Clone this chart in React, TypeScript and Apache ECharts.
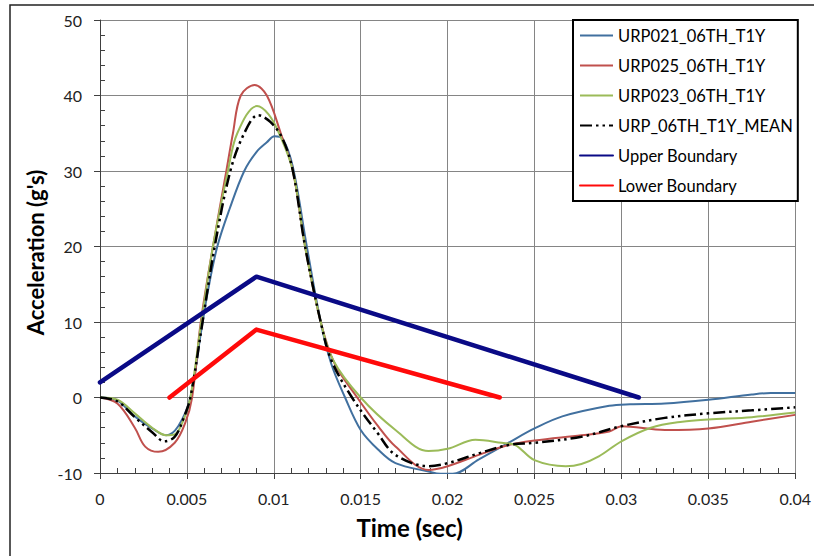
import React, { useEffect, useRef } from "react";
import * as echarts from "echarts";

// ---- Data (time in seconds, acceleration in g's) ----
const urp021Time = [0, 0.001, 0.002, 0.003, 0.0038, 0.0045, 0.0052, 0.0058, 0.0062, 0.00675, 0.00746, 0.0083, 0.009, 0.0096, 0.01004, 0.0105, 0.0111, 0.0119, 0.0127, 0.0133, 0.0141, 0.015, 0.016, 0.017, 0.0189, 0.0196, 0.0203, 0.0218, 0.0235, 0.025, 0.0266, 0.0293, 0.0305, 0.0325, 0.035, 0.0375, 0.0386, 0.04];
const urp021Values = [0, -0.4, -2.5, -4.1, -5.0, -3.8, 0, 8.5, 14, 20, 25, 30, 32.5, 33.8, 34.6, 34.3, 30.5, 20, 10, 4.5, 0, -4.3, -6.9, -8.7, -9.8, -10.1, -10.1, -8.2, -6.0, -4.1, -2.5, -1.1, -0.9, -0.8, -0.3, 0.4, 0.6, 0.6];

const urp025Time = [0, 0.001, 0.002, 0.0026, 0.00335, 0.0043, 0.0049, 0.0053, 0.0058, 0.0065, 0.00727, 0.00765, 0.0081, 0.0089, 0.0096, 0.0104, 0.0111, 0.0118, 0.0127, 0.0135, 0.0148, 0.016, 0.017, 0.0189, 0.02, 0.0218, 0.0235, 0.025, 0.0277, 0.0293, 0.03, 0.0325, 0.035, 0.0375, 0.04];
const urp025Values = [0, -0.8, -4.0, -6.5, -7.2, -6.0, -3.4, 0, 10, 20, 30, 35, 40, 41.4, 40, 35, 30, 20, 10, 4.5, 0, -3.8, -6.5, -9.6, -9.1, -7.6, -6.3, -5.7, -5.0, -4.5, -3.8, -4.3, -4.1, -3.2, -2.3];

const urp023Time = [0, 0.001, 0.002, 0.003, 0.0038, 0.0043, 0.0048, 0.0052, 0.00583, 0.0065, 0.00736, 0.0079, 0.00903, 0.0097, 0.0103, 0.0111, 0.0118, 0.0127, 0.0134, 0.015, 0.017, 0.0189, 0.02, 0.0216, 0.0231, 0.0239, 0.025, 0.0268, 0.0277, 0.0287, 0.03, 0.0317, 0.0335, 0.035, 0.0375, 0.04];
const urp023Values = [0, -0.3, -2.1, -4.0, -5.0, -4.9, -3.0, 0, 10, 20, 30, 35, 38.6, 37.5, 35, 30, 20, 10, 5, 0, -4.3, -7.1, -6.8, -5.6, -6.0, -6.3, -8.3, -9.1, -8.8, -7.8, -5.8, -4.0, -3.2, -2.9, -2.6, -2.0];

const meanTime = [0, 0.001, 0.002, 0.003, 0.0037, 0.0043, 0.0048, 0.0052, 0.0059, 0.0066, 0.0075, 0.0083, 0.0091, 0.0098, 0.0105, 0.0111, 0.0118, 0.0127, 0.0133, 0.0145, 0.016, 0.017, 0.0189, 0.02, 0.0218, 0.0235, 0.025, 0.0277, 0.03, 0.0325, 0.035, 0.0375, 0.04];
const meanValues = [0, -0.5, -2.6, -4.6, -5.8, -5.2, -2.8, 0, 10, 20, 30, 35, 37.4, 36.5, 34.3, 30, 20, 10, 5, 0, -4.8, -7.6, -9.1, -8.7, -7.4, -6.3, -6.0, -5.2, -3.8, -2.7, -2.1, -1.7, -1.3];

const upperTime = [0, 0.009, 0.031];
const upperValues = [2, 16, 0];

const lowerTime = [0.004, 0.009, 0.023];
const lowerValues = [0, 9, 0];

const seriesNames = ["URP021_06TH_T1Y", "URP025_06TH_T1Y", "URP023_06TH_T1Y", "URP_06TH_T1Y_MEAN", "Upper Boundary", "Lower Boundary"];

const xMin = 0, xMax = 0.04, xStep = 0.005;
const yMin = -10, yMax = 50, yStep = 10;

const pairs = (t: number[], v: number[]) => t.map((x, i) => [x, v[i]]);

const FONT = "Lato, 'Open Sans', sans-serif";

export default function App() {
  const ref = useRef<HTMLDivElement>(null);
  useEffect(() => {
    if (!ref.current) return;
    const chart = echarts.init(ref.current, undefined, { renderer: "svg" });
    const gridColor = "#858585";
    const axisColor = "#404040";
    const baseX = {
      type: "value" as const, min: xMin, max: xMax, interval: xStep,
    };
    const baseY = {
      type: "value" as const, min: yMin, max: yMax, interval: yStep,
    };
    chart.setOption({
      animation: false,
      backgroundColor: "#fff",
      grid: { left: 100, top: 20, right: 17, bottom: 83 },
      graphic: [
        {
          type: "rect", x: 10, y: 5, silent: true, z: -10,
          shape: { x: 0, y: 0, width: 830, height: 580 },
          style: { fill: "none", stroke: "#222", lineWidth: 1.5 },
        },
      ],
      legend: {
        orient: "vertical", left: 573, top: 20,
        itemWidth: 33, itemHeight: 14, itemGap: 13,
        padding: [7, 5, 7, 6],
        borderColor: "#000", borderWidth: 2, backgroundColor: "#fff",
        itemStyle: { opacity: 0 },
        textStyle: { fontFamily: FONT, fontSize: 16.5, color: "#000" },
        data: seriesNames,
      },
      xAxis: [
        {
          ...baseX, position: "bottom",
          name: "Time (sec)", nameLocation: "middle", nameGap: 42,
          nameTextStyle: { fontFamily: FONT, fontSize: 24, fontWeight: "bold", color: "#000", padding: [0, 76, 0, 0] },
          axisLine: { show: true, onZero: false, lineStyle: { color: axisColor, width: 1 } },
          axisTick: { show: true, inside: false, length: 6, lineStyle: { color: axisColor } },
          axisLabel: { margin: 17, fontFamily: FONT, fontSize: 16, color: "#222" },
          splitLine: { show: true, lineStyle: { color: gridColor, width: 1 } },
        },
        {
          ...baseX, position: "bottom",
          axisLine: { show: false, onZero: false },
          axisTick: { show: false, inside: true },
          axisLabel: { show: false },
          splitLine: { show: false },
          minorTick: { show: true, splitNumber: 5, length: 5, lineStyle: { color: axisColor } },
        },
      ],
      yAxis: [
        {
          ...baseY, position: "left",
          name: "Acceleration (g's)", nameLocation: "middle", nameGap: 50,
          nameTextStyle: { fontFamily: FONT, fontSize: 22, fontWeight: "bold", color: "#000", padding: [0, 12, 0, 0] },
          axisLine: { show: true, onZero: false, lineStyle: { color: axisColor, width: 1 } },
          axisTick: { show: true, inside: false, length: 6, lineStyle: { color: axisColor } },
          axisLabel: { margin: 18, fontFamily: FONT, fontSize: 16, color: "#222" },
          splitLine: { show: true, lineStyle: { color: gridColor, width: 1 } },
        },
        {
          ...baseY, position: "left",
          axisLine: { show: false, onZero: false },
          axisTick: { show: false, inside: true },
          axisLabel: { show: false },
          splitLine: { show: false },
          minorTick: { show: true, splitNumber: 5, length: 5, lineStyle: { color: axisColor } },
        },
      ],
      series: [
        {
          name: seriesNames[0], type: "line", data: pairs(urp021Time, urp021Values),
          symbol: "none", smooth: 0.35, lineStyle: { color: "#41709F", width: 2 }, itemStyle: { color: "#41709F" },
        },
        {
          name: seriesNames[1], type: "line", data: pairs(urp025Time, urp025Values),
          symbol: "none", smooth: 0.35, lineStyle: { color: "#C0504D", width: 2 }, itemStyle: { color: "#C0504D" },
        },
        {
          name: seriesNames[2], type: "line", data: pairs(urp023Time, urp023Values),
          symbol: "none", smooth: 0.35, lineStyle: { color: "#9BBB59", width: 2 }, itemStyle: { color: "#9BBB59" },
        },
        {
          name: seriesNames[3], type: "line", data: pairs(meanTime, meanValues),
          symbol: "none", smooth: 0.35,
          lineStyle: { color: "#000", width: 2.5, type: [12, 4, 2.5, 4, 2.5, 4] }, itemStyle: { color: "#000" },
        },
        {
          name: seriesNames[4], type: "line", data: pairs(upperTime, upperValues),
          symbol: "none", lineStyle: { color: "#0A0A86", width: 4.5, cap: "round", join: "round" }, itemStyle: { color: "#0A0A86" },
        },
        {
          name: seriesNames[5], type: "line", data: pairs(lowerTime, lowerValues),
          symbol: "none", lineStyle: { color: "#FF0A0A", width: 4.5, cap: "round", join: "round" }, itemStyle: { color: "#FF0A0A" },
        },
      ],
    });
    return () => chart.dispose();
  }, []);
  return (
    <div
      ref={ref}
      style={{ position: "fixed", left: 0, top: 0, width: 814, height: 556, background: "#fff" }}
    />
  );
}
